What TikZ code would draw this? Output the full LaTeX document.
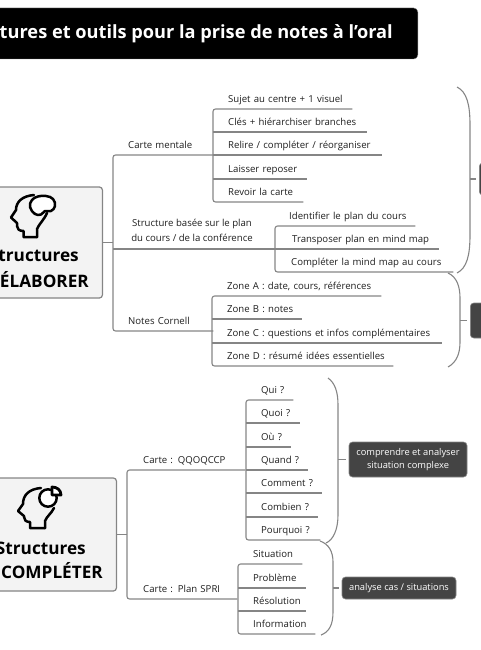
\documentclass[tikz,border=0pt]{standalone}
\usepackage{fontspec}
\setmainfont{Open Sans}
\definecolor{branchGray}{HTML}{858585}
\definecolor{boxDark}{HTML}{444444}
\definecolor{boxLight}{HTML}{F3F3F3}
\definecolor{textDark}{HTML}{1E1E1E}
\tikzset{
  branch/.style={draw=branchGray, line width=1.1pt, line join=round},
  corner/.style={branch, rounded corners=2.5pt},
  indent/.store in=\leafindent, indent=15pt,
  leaftext/.style={inner sep=0pt, text=textDark, font=\fontsize{9.6}{15.5}\selectfont},
  leaf/.style={leaftext, anchor=south west, text width=#1, align=left, text depth=6.3pt,
    execute at begin node=\hspace*{\leafindent}},
  mainbox/.style={draw=branchGray, fill=boxLight, line width=1.2pt, rounded corners=3pt, anchor=east},
  maintext/.style={anchor=east, inner sep=0pt, font=\fontsize{17.2}{20}\bfseries\selectfont},
  darkbox/.style={draw=branchGray, fill=boxDark, line width=.6pt, rounded corners=3.5pt, text=white,
    align=center, font=\fontsize{9.3}{13}\selectfont, inner sep=0pt},
  iconline/.style={draw=black, line width=2.5pt, line join=round, line cap=round}
}
\begin{document}
\begin{tikzpicture}[x=1pt, y=-1pt]
  \useasboundingbox (0,0) rectangle (480,650);
  % titre
  \node[fill=black, draw=branchGray, line width=.4pt, rounded corners=4pt, anchor=east, minimum width=440pt, minimum height=51pt] (title) at (418,33.5) {};
  \node[anchor=base east, inner sep=0pt, text=white, font=\fontsize{18.2}{20}\bfseries\selectfont] (titleText) at (393,39) {tures et outils pour la prise de notes à l'oral};

  % structures a elaborer
  \node[mainbox, minimum width=120pt, minimum height=111pt] (elaborer) at (103,242.5) {};
  \node[maintext] (elaborerA) at (79,256) {tructures};
  \node[maintext] (elaborerB) at (89,280) {ÉLABORER};
  \draw[iconline] (37,237) -- (23.5,237) -- (23.5,231) .. controls (19,231) and (17,229) .. (17,226) -- (17,223) -- (11,217.5) -- (16,210) .. controls (16,202) and (22,196) .. (34,195);
  \draw[iconline] (37,237) -- (37,229) .. controls (39,224) and (44,220) .. (47,213);
  \draw[iconline, fill=white] plot[smooth cycle, tension=.7] coordinates {(30,207) (32,200) (38,196.5) (46,196) (53,199) (55,206) (51,211) (45,211) (41,214.5) (35,214)};

  \node[leaf=100pt] (mentale) at (113,155) {Carte mentale};
  \node[leaftext, align=center] (structure) at (192,230.5) {Structure basée sur le plan\\du cours / de la conférence};
  \coordinate (structureStart) at (113,249);
  \coordinate (structureEnd) at (275,249);
  \node[leaf=100pt] (cornell) at (113,331) {Notes Cornell};
  \draw[branch] (elaborer.east) -- (elaborer.east -| mentale.south west);
  \draw[corner] (mentale.south east) -- (mentale.south west) -- (cornell.south west) -- (cornell.south east);
  \draw[branch] (structureStart) -- (structureEnd);

  \node[leaf=139pt] (sujet) at (213,109) {Sujet au centre + 1 visuel};
  \node[leaf=154pt] (cles) at (213,132) {Clés + hiérarchiser branches};
  \node[leaf=169pt] (relire) at (213,155) {Relire / compléter / réorganiser};
  \node[leaf=94pt] (reposer) at (213,179) {Laisser reposer};
  \node[leaf=90pt] (revoir) at (213,202) {Revoir la carte};
  \draw[corner] (sujet.south east) -- (sujet.south west) -- (revoir.south west) -- (revoir.south east);
  \draw[branch] (cles.south west) -- (cles.south east);
  \draw[branch] (relire.south west) -- (relire.south east);
  \draw[branch] (reposer.south west) -- (reposer.south east);

  \node[leaf=140pt, indent=14pt] (identifier) at (275,226) {Identifier le plan du cours};
  \node[leaf=164pt, indent=17pt] (transposer) at (275,249) {Transposer plan en mind map};
  \node[leaf=178pt, indent=16pt] (completer) at (275,272) {Compléter la mind map au cours};
  \draw[corner] (identifier.south east) -- (identifier.south west) -- (completer.south west) -- (completer.south east);
  \draw[branch] (transposer.south west) -- (transposer.south east);

  \node[leaf=169pt] (zoneA) at (212,296) {Zone A : date, cours, références};
  \node[leaf=90pt] (zoneB) at (212,319) {Zone B : notes};
  \node[leaf=230pt] (zoneC) at (212,343) {Zone C : questions et infos complémentaires};
  \node[leaf=181pt] (zoneD) at (212,366) {Zone D : résumé idées essentielles};
  \draw[corner] (zoneA.south east) -- (zoneA.south west) -- (zoneD.south west) -- (zoneD.south east);
  \draw[branch] (zoneB.south west) -- (zoneB.south east);
  \draw[branch] (zoneC.south west) -- (zoneC.south east);

  \node[darkbox, anchor=west, minimum width=40pt, minimum height=32pt] (sideA) at (479,179) {};
  \node[darkbox, anchor=west, minimum width=40pt, minimum height=35pt] (sideB) at (470,320.5) {};
  \draw[branch] (457,87) .. controls (467,92) and (470,105) .. (470,125) -- (470,235) .. controls (470,255) and (467,268) .. (457,273);
  \draw[branch] (448,273) .. controls (457,277) and (460,287) .. (460,298) -- (460,342) .. controls (460,353) and (457,362) .. (448,367);
  \coordinate (tickA) at (470,179);
  \coordinate (tickB) at (460,320.5);
  \draw[branch, shorten >=3pt] (tickA) -- (sideA.west);
  \draw[branch, shorten >=3pt] (tickB) -- (sideB.west);

  % structures a completer
  \node[mainbox, minimum width=135pt, minimum height=113pt] (completerBox) at (117,534.5) {};
  \node[maintext] (completerA) at (86,548) {Structures};
  \node[maintext] (completerB) at (103,571) {COMPLÉTER};
  \draw[iconline] (45,528) -- (30,528) -- (30,522) .. controls (26,522) and (24,520) .. (24,517) -- (24,516) -- (18,511) -- (23,504) .. controls (23,495) and (29,489) .. (41,488);
  \draw[iconline] (45,528) -- (45,521) .. controls (47,516) and (51,514) .. (54,508);
  \draw[iconline, fill=white] (48,498) circle[radius=8.7pt];
  \draw[iconline, fill=white, line width=2.8pt] (52,495) -- (52,487) .. controls (57,487) and (61,490) .. (61,495) -- cycle;

  \node[leaf=118pt, indent=16pt] (qqoqccp) at (127,470) {Carte : QQOQCCP};
  \node[leaf=110pt, indent=16pt] (spri) at (127,599) {Carte : Plan SPRI};
  \draw[branch] (completerBox.east) -- (completerBox.east -| qqoqccp.south west);
  \draw[corner] (qqoqccp.south east) -- (qqoqccp.south west) -- (spri.south west) -- (spri.south east);

  \node[leaf=47pt] (qui) at (246,400) {Qui ?};
  \node[leaf=54pt] (quoi) at (246,423) {Quoi ?};
  \node[leaf=45pt] (ou) at (246,447) {Où ?};
  \node[leaf=62pt] (quand) at (246,470) {Quand ?};
  \node[leaf=76pt] (comment) at (246,493) {Comment ?};
  \node[leaf=72pt] (combien) at (246,517) {Combien ?};
  \node[leaf=74pt] (pourquoi) at (246,540) {Pourquoi ?};
  \draw[corner] (qui.south east) -- (qui.south west) -- (pourquoi.south west) -- (pourquoi.south east);
  \draw[branch] (quoi.south west) -- (quoi.south east);
  \draw[branch] (ou.south west) -- (ou.south east);
  \draw[branch] (quand.south west) -- (quand.south east);
  \draw[branch] (comment.south west) -- (comment.south east);
  \draw[branch] (combien.south west) -- (combien.south east);

  \node[leaf=64pt] (situation) at (238,564) {Situation};
  \node[leaf=68pt] (probleme) at (238,588) {Problème};
  \node[leaf=68pt] (resolution) at (238,611) {Résolution};
  \node[leaf=77pt] (information) at (238,634) {Information};
  \draw[corner] (situation.south east) -- (situation.south west) -- (information.south west) -- (information.south east);
  \draw[branch] (probleme.south west) -- (probleme.south east);
  \draw[branch] (resolution.south west) -- (resolution.south east);

  \node[darkbox, minimum width=118pt, minimum height=35pt] (complexe) at (408,459.5) {comprendre et analyser\\situation complexe};
  \node[darkbox, minimum width=114pt, minimum height=22pt] (cas) at (399,588) {analyse cas / situations};
  \draw[branch] (328,378) .. controls (335,383) and (338,392) .. (338,405) -- (338,515) .. controls (338,530) and (333,540) .. (326,543);
  \draw[branch] (320,541) .. controls (329,544) and (333,552) .. (333,562) -- (333,612) .. controls (333,625) and (329,632) .. (321,635);
  \coordinate (tickC) at (338,459.5);
  \coordinate (tickD) at (333,588);
  \draw[branch, shorten >=3pt] (tickC) -- (complexe.west);
  \draw[branch, shorten >=3pt] (tickD) -- (cas.west);
\end{tikzpicture}
\end{document}
